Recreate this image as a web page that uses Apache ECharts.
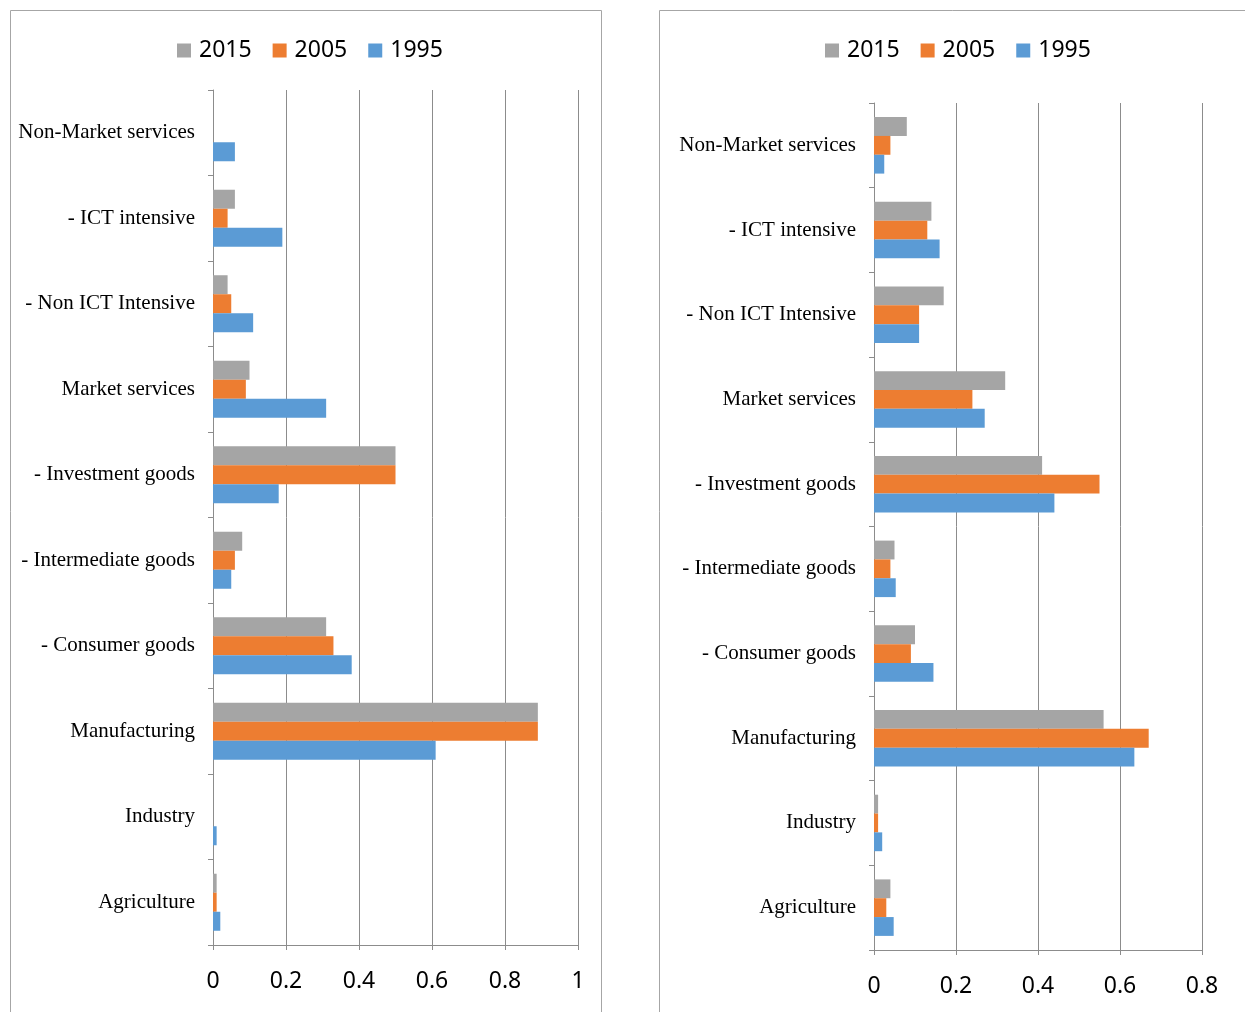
<!DOCTYPE html>
<html>
<head>
<meta charset="utf-8">
<script src="https://cdn.jsdelivr.net/npm/echarts@6/dist/echarts.min.js"></script>
<style>
html,body{margin:0;padding:0;background:#fff;}
#chart{width:1245px;height:1012px;}
</style>
</head>
<body>
<div id="chart"></div>
<script>
// Categories listed top to bottom as they appear in the picture
const categories = ['Non-Market services', '- ICT intensive', '- Non ICT Intensive', 'Market services',
  '- Investment goods', '- Intermediate goods', '- Consumer goods', 'Manufacturing', 'Industry', 'Agriculture'];
const seriesNames = ['2015', '2005', '1995'];

// Left panel values
const left2015 = [0, 0.06, 0.04, 0.10, 0.50, 0.08, 0.31, 0.89, 0, 0.01];
const left2005 = [0, 0.04, 0.05, 0.09, 0.50, 0.06, 0.33, 0.89, 0, 0.01];
const left1995 = [0.06, 0.19, 0.11, 0.31, 0.18, 0.05, 0.38, 0.61, 0.01, 0.02];

// Right panel values
const right2015 = [0.08, 0.14, 0.17, 0.32, 0.41, 0.05, 0.10, 0.56, 0.01, 0.04];
const right2005 = [0.04, 0.13, 0.11, 0.24, 0.55, 0.04, 0.09, 0.67, 0.01, 0.03];
const right1995 = [0.025, 0.16, 0.11, 0.27, 0.44, 0.053, 0.145, 0.635, 0.02, 0.048];

// Axis ticks
const leftTicks = [0, 0.2, 0.4, 0.6, 0.8, 1];
const rightTicks = [0, 0.2, 0.4, 0.6, 0.8];

const colors = { '2015': '#A5A5A5', '2005': '#ED7D31', '1995': '#5B9BD5' };
const gridColor = '#8C8C8C';

function valueAxis(gridIndex, ticks) {
  return {
    type: 'value', gridIndex: gridIndex,
    min: ticks[0], max: ticks[ticks.length - 1], interval: ticks[1] - ticks[0],
    axisLine: { show: true, lineStyle: { color: gridColor, width: 1 } },
    axisTick: { show: true, length: 5, lineStyle: { color: gridColor } },
    splitLine: { show: true, lineStyle: { color: gridColor, width: 1 } },
    axisLabel: { fontFamily: 'Noto Sans', fontSize: 23, color: '#000', margin: 25,
      formatter: v => String(Math.round(v * 10) / 10) }
  };
}
function catAxis(gridIndex) {
  return {
    type: 'category', gridIndex: gridIndex, data: categories, inverse: true,
    axisLine: { show: true, lineStyle: { color: gridColor, width: 1 } },
    axisTick: { show: true, length: 5, lineStyle: { color: gridColor } },
    splitLine: { show: false },
    axisLabel: { fontFamily: 'Liberation Serif', fontSize: 21, color: '#000', margin: 18,
      padding: [4, 0, 0, 0] }
  };
}
function bars(name, data, idx) {
  return {
    type: 'bar', name: name, data: data, xAxisIndex: idx, yAxisIndex: idx,
    barGap: '0%', barCategoryGap: '33.3%',
    itemStyle: { color: colors[name] }, animation: false
  };
}
function legend(left, top) {
  return {
    data: seriesNames, left: left, top: top, orient: 'horizontal',
    itemWidth: 14, itemHeight: 14, itemGap: 21, padding: 0,
    icon: 'rect',
    textStyle: { fontFamily: 'Noto Sans', fontSize: 23, color: '#000', padding: [0, 0, 0, 3] },
    selectedMode: false
  };
}

const chart = echarts.init(document.getElementById('chart'), null, { renderer: 'canvas' });
chart.setOption({
  animation: false,
  backgroundColor: '#fff',
  graphic: [
    { type: 'rect', shape: { x: 10.5, y: 10.5, width: 591, height: 1100 },
      style: { fill: 'none', stroke: '#A6A6A6', lineWidth: 1 }, silent: true },
    { type: 'rect', shape: { x: 659.5, y: 10.5, width: 700, height: 1100 },
      style: { fill: 'none', stroke: '#A6A6A6', lineWidth: 1 }, silent: true }
  ],
  legend: [legend(177, 39), legend(825, 39)],
  grid: [
    { left: 213, top: 90, width: 365, height: 855 },
    { left: 874, top: 103, width: 328, height: 847 }
  ],
  xAxis: [valueAxis(0, leftTicks), valueAxis(1, rightTicks)],
  yAxis: [catAxis(0), catAxis(1)],
  series: [
    bars('2015', left2015, 0), bars('2005', left2005, 0), bars('1995', left1995, 0),
    bars('2015', right2015, 1), bars('2005', right2005, 1), bars('1995', right1995, 1)
  ]
});
</script>
</body>
</html>
